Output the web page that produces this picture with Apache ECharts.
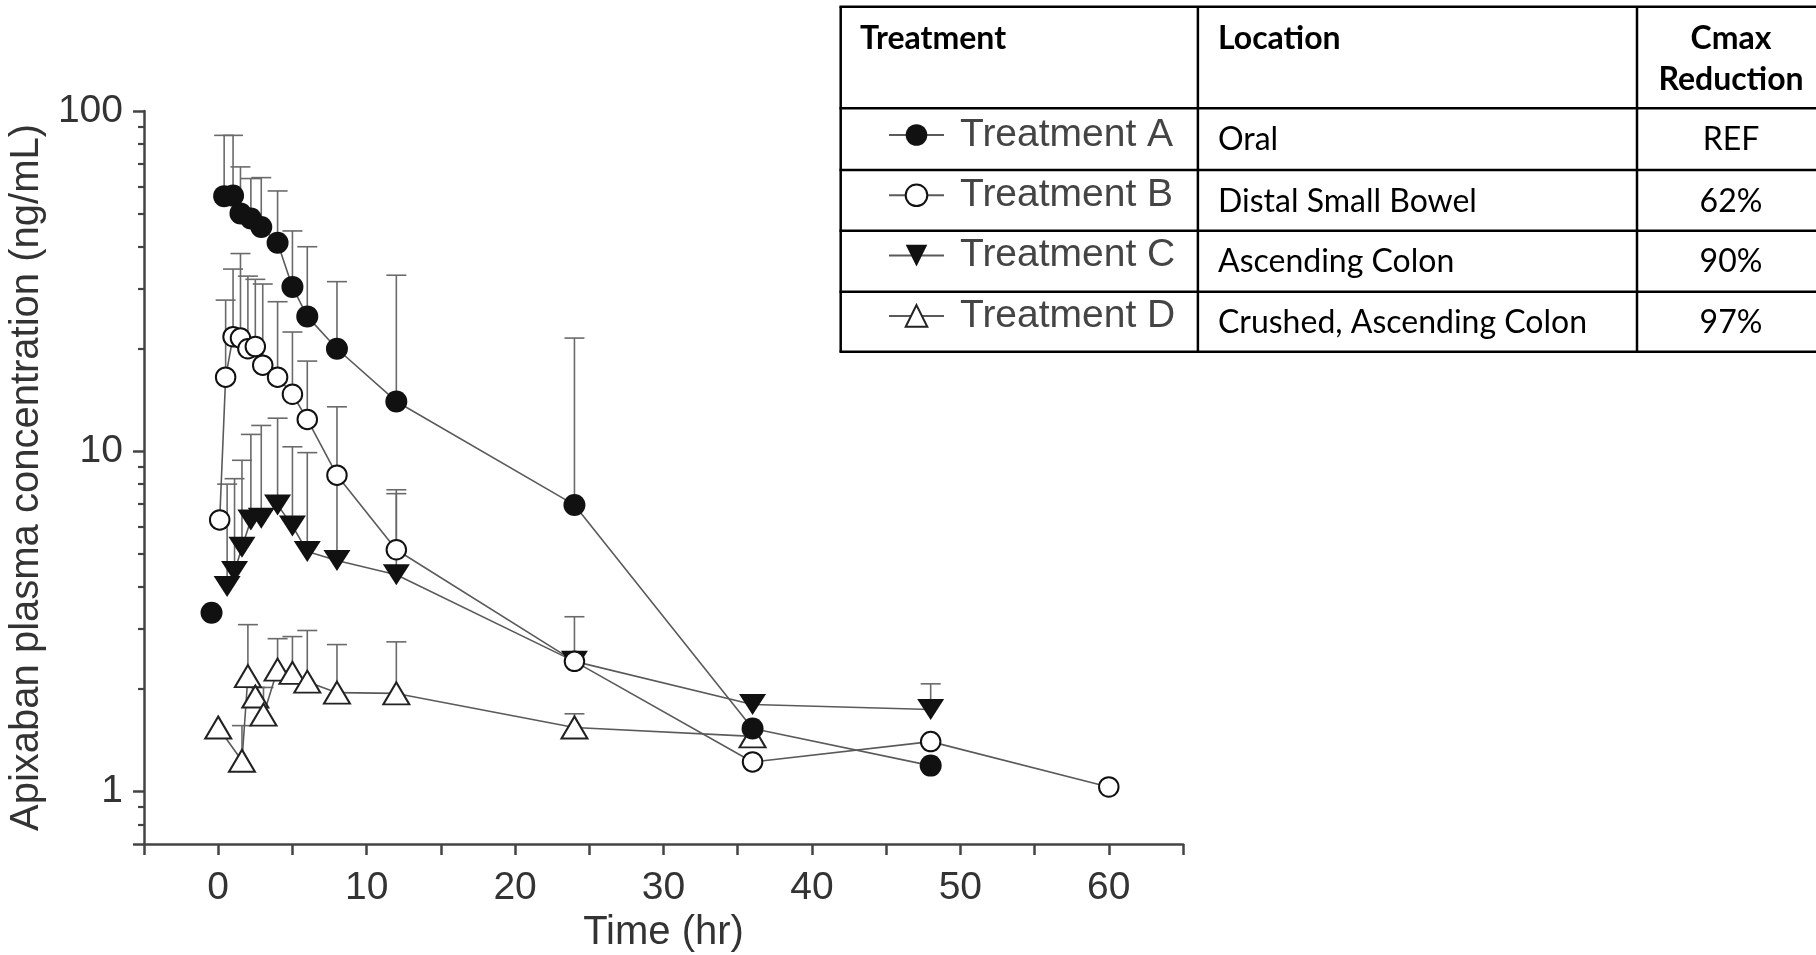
<!DOCTYPE html>
<html>
<head>
<meta charset="utf-8">
<script src="https://cdn.jsdelivr.net/npm/echarts@6/dist/echarts.min.js"></script>
<style>
html,body{margin:0;padding:0;background:#fff;}
#chart{width:1816px;height:955px;}
</style>
</head>
<body>
<div id="chart"></div>
<script>
// ---------------- data ----------------
const timesA = [0.4, 1.0, 1.5, 2.2, 2.9, 4.0, 5.0, 6.0, 8.0, 12, 24, 36, 48];
const concA  = [56.2, 56.4, 50.0, 48.3, 45.6, 41.0, 30.4, 24.9, 20.0, 14.0, 6.95, 1.53, 1.19];
const upperA = [84.8, 84.8, 68.5, 63.3, 63.7, 58.2, 44.4, 39.9, 31.5, 32.9, 21.5, null, null];
const timesA0 = [-0.45];
const concA0  = [3.35];

const timesB = [0.1, 0.5, 1.0, 1.5, 2.0, 2.5, 3.0, 4.0, 5.0, 6.0, 8.0, 12, 24, 36, 48, 60];
const concB  = [6.28, 16.5, 21.7, 21.5, 20.0, 20.3, 17.9, 16.5, 14.7, 12.4, 8.5, 5.13, 2.41, 1.22, 1.40, 1.03];
const upperB = [null, 27.8, 34.3, 38.1, 32.7, 32.0, 31.0, 27.5, 22.4, 18.4, 13.5, 7.7, 3.26, null, null, null];

const timesC = [0.6, 1.1, 1.6, 2.2, 2.9, 4.0, 5.0, 6.0, 8.0, 12, 24, 36, 48];
const concC  = [4.0, 4.43, 5.22, 6.28, 6.35, 6.95, 6.03, 5.07, 4.77, 4.33, 2.41, 1.80, 1.74];
const upperC = [8.0, 8.3, 9.4, 11.2, 11.9, 12.5, 10.3, 9.9, 8.4, 7.5, null, null, 2.07];

const timesD = [0.0, 1.6, 2.0, 2.5, 3.05, 4.0, 5.0, 6.0, 8.0, 12, 24, 36];
const concD  = [1.54, 1.23, 2.18, 1.90, 1.68, 2.28, 2.23, 2.10, 1.95, 1.94, 1.54, 1.45];
const upperD = [null, 1.56, 3.09, 2.02, 2.02, 2.81, 2.85, 2.97, 2.70, 2.75, 1.69, null];

const xLabelValues = [0, 10, 20, 30, 40, 50, 60];
const yLabelValues = [1, 10, 100];
const yMajorTickValues = [0.7, 1, 10, 100];
const yMinorTickValues = [0.8, 0.9, 2, 3, 4, 5, 6, 7, 8, 9, 20, 30, 40, 50, 60, 70, 80, 90];

const seriesNames = ['Treatment A', 'Treatment B', 'Treatment C', 'Treatment D'];
const tableHeader = ['Treatment', 'Location', 'Cmax', 'Reduction'];
const tableLocations = ['Oral', 'Distal Small Bowel', 'Ascending Colon', 'Crushed, Ascending Colon'];
const tableReductions = ['REF', '62%', '90%', '97%'];

// ---------------- helpers ----------------
function zip(t, v) { return t.map((x, i) => [x, v[i]]); }
function errData(t, v, u) {
  const out = [];
  t.forEach((x, i) => { if (u[i] != null) out.push([x, v[i], u[i]]); });
  return out;
}
const LINE = '#5a5a5a';
const ERR = '#6a6a6a';
const AXIS = '#444';
const TXT = '#333';
const FONT = "'Liberation Sans', Arial, sans-serif";

function errSeries(t, v, u) {
  return {
    type: 'custom', silent: true, z: 1,
    data: errData(t, v, u),
    encode: { x: 0, y: [1, 2] },
    renderItem: function (params, api) {
      const x = api.value(0), lo = api.value(1), hi = api.value(2);
      const p0 = api.coord([x, lo]);
      const p1 = api.coord([x, hi]);
      const st = { stroke: ERR, lineWidth: 1.6 };
      return {
        type: 'group',
        children: [
          { type: 'line', shape: { x1: p0[0], y1: p0[1], x2: p1[0], y2: p1[1] }, style: st },
          { type: 'line', shape: { x1: p1[0] - 10, y1: p1[1], x2: p1[0] + 10, y2: p1[1] }, style: st }
        ]
      };
    }
  };
}

// ---------------- table graphic ----------------
const tblLeft = 840.7, tblRight = 1830;
const colX = [840.7, 1197.9, 1637];
const rowY = [6.7, 108.3, 170, 230.7, 291.7, 351.7];
const graphics = [];
rowY.forEach(y => graphics.push({
  type: 'line', shape: { x1: tblLeft - 1.25, y1: y, x2: tblRight, y2: y },
  style: { stroke: '#000', lineWidth: 2.5 }, z: 10
}));
colX.forEach(x => graphics.push({
  type: 'line', shape: { x1: x, y1: rowY[0], x2: x, y2: rowY[rowY.length - 1] },
  style: { stroke: '#000', lineWidth: 2.5 }, z: 10
}));
const TF = "Lato, 'Open Sans', sans-serif";
graphics.push({ type: 'text', x: 860, y: 39, z: 10,
  style: { text: tableHeader[0], font: 'bold 32px ' + TF, fill: '#000', verticalAlign: 'middle' } });
graphics.push({ type: 'text', x: 1218, y: 39, z: 10,
  style: { text: tableHeader[1], font: 'bold 32px ' + TF, fill: '#000', verticalAlign: 'middle' } });
graphics.push({ type: 'text', x: 1731, y: 39, z: 10,
  style: { text: tableHeader[2], font: 'bold 32px ' + TF, fill: '#000', align: 'center', verticalAlign: 'middle' } });
graphics.push({ type: 'text', x: 1731, y: 80, z: 10,
  style: { text: tableHeader[3], font: 'bold 32px ' + TF, fill: '#000', align: 'center', verticalAlign: 'middle' } });
const rowTextY = [140, 201.5, 262, 323];
tableLocations.forEach((s, i) => graphics.push({ type: 'text', x: 1218, y: rowTextY[i], z: 10,
  style: { text: s, font: '32px ' + TF, fill: '#000', verticalAlign: 'middle' } }));
tableReductions.forEach((s, i) => graphics.push({ type: 'text', x: 1731, y: rowTextY[i], z: 10,
  style: { text: s, font: '32px ' + TF, fill: '#000', align: 'center', verticalAlign: 'middle' } }));

// legends inside the first table column
const legendIconY = [135, 195.3, 255.6, 315.9];
const legends = seriesNames.map((n, i) => ({
  data: [n], left: 888, top: legendIconY[i] - 22, orient: 'vertical', padding: 0,
  itemWidth: 55, itemHeight: 27, itemGap: 0, selectedMode: false, z: 11,
  textStyle: { fontSize: 39, fontFamily: FONT, color: '#444', lineHeight: 40, padding: [0, 0, 4, 11] }
}));

// ---------------- chart ----------------
const chart = echarts.init(document.getElementById('chart'), null, { renderer: 'canvas' });
const option = {
  animation: false,
  backgroundColor: '#fff',
  grid: { left: 144, right: 633, top: 111, bottom: 111, containLabel: false, outerBoundsMode: 'none' },
  legend: legends,
  graphic: { elements: graphics },
  xAxis: {
    type: 'value', min: -5, max: 65, interval: 5,
    name: 'Time (hr)', nameLocation: 'middle', nameGap: 64,
    nameTextStyle: { fontSize: 40, fontFamily: FONT, color: TXT },
    axisLine: { onZero: false, lineStyle: { color: AXIS, width: 2.5 } },
    axisTick: { length: 11, lineStyle: { color: AXIS, width: 2.5 } },
    axisLabel: { customValues: xLabelValues, fontSize: 39, fontFamily: FONT, color: TXT, margin: 25 },
    splitLine: { show: false }
  },
  yAxis: [
    {
      type: 'log', logBase: 10, min: 0.7, max: 100,
      name: 'Apixaban plasma concentration (ng/mL)', nameLocation: 'middle', nameGap: 91,
      nameTextStyle: { fontSize: 40, fontFamily: FONT, color: TXT },
      axisLine: { show: true, onZero: false, lineStyle: { color: AXIS, width: 2.5 } },
      axisTick: { show: true, customValues: yMajorTickValues, length: 11, lineStyle: { color: AXIS, width: 2.5 } },
      axisLabel: { customValues: yLabelValues, fontSize: 39, fontFamily: FONT, color: TXT, margin: 21 },
      splitLine: { show: false }, minorTick: { show: false }
    },
    {
      type: 'log', logBase: 10, min: 0.7, max: 100, position: 'left', offset: 0,
      axisLine: { show: false, onZero: false },
      axisTick: { show: true, customValues: yMinorTickValues, length: 6, lineStyle: { color: AXIS, width: 2.2 } },
      axisLabel: { show: false },
      splitLine: { show: false }
    }
  ],
  series: [
    errSeries(timesA, concA, upperA),
    errSeries(timesB, concB, upperB),
    errSeries(timesC, concC, upperC),
    errSeries(timesD, concD, upperD),
    {
      type: 'line', name: seriesNames[3], data: zip(timesD, concD), z: 3,
      symbol: 'triangle', symbolSize: [26, 22],
      itemStyle: { color: '#fff', borderColor: '#222', borderWidth: 2 },
      lineStyle: { color: LINE, width: 1.6 }, emphasis: { disabled: true }
    },
    {
      type: 'line', name: seriesNames[2], data: zip(timesC, concC), z: 3,
      symbol: 'triangle', symbolRotate: 180, symbolSize: [27, 21],
      itemStyle: { color: '#111', borderColor: '#111', borderWidth: 0 },
      lineStyle: { color: LINE, width: 1.6 }, emphasis: { disabled: true }
    },
    {
      type: 'line', name: seriesNames[1], data: zip(timesB, concB), z: 3,
      symbol: 'circle', symbolSize: 19.5,
      itemStyle: { color: '#fff', borderColor: '#111', borderWidth: 2 },
      lineStyle: { color: LINE, width: 1.6 }, emphasis: { disabled: true }
    },
    {
      type: 'line', name: seriesNames[0], data: zip(timesA, concA), z: 3,
      symbol: 'circle', symbolSize: 22,
      itemStyle: { color: '#111', borderColor: '#111', borderWidth: 0 },
      lineStyle: { color: LINE, width: 1.6 }, emphasis: { disabled: true }
    },
    {
      type: 'scatter', data: zip(timesA0, concA0), z: 3,
      symbol: 'circle', symbolSize: 22,
      itemStyle: { color: '#111', opacity: 1 }, emphasis: { disabled: true }
    }
  ]
};
chart.setOption(option);
</script>
</body>
</html>
